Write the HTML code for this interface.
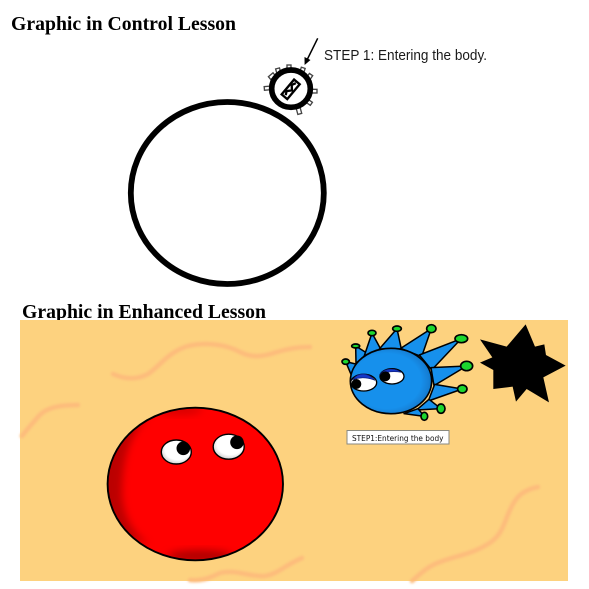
<!DOCTYPE html>
<html>
<head>
<meta charset="utf-8">
<style>
html,body{margin:0;padding:0;background:#fff;width:589px;height:589px;overflow:hidden}
svg{display:block}
</style>
</head>
<body>
<svg width="589" height="589" viewBox="0 0 589 589" xmlns="http://www.w3.org/2000/svg">
<defs>
<filter id="soft" x="-10%" y="-10%" width="120%" height="120%"><feGaussianBlur stdDeviation="0.35"/></filter>
<filter id="worm" x="-10%" y="-30%" width="120%" height="160%"><feGaussianBlur stdDeviation="1.3"/></filter>
<filter id="shade" x="-40%" y="-40%" width="180%" height="180%"><feGaussianBlur stdDeviation="4"/></filter>
<radialGradient id="eyeShade" cx="55%" cy="40%" r="65%"><stop offset="65%" stop-color="#fff"/><stop offset="100%" stop-color="#c4c4c4"/></radialGradient>
<radialGradient id="blueBody" cx="45%" cy="50%" r="60%"><stop offset="70%" stop-color="#1590ec"/><stop offset="100%" stop-color="#0f6fc0"/></radialGradient>
<clipPath id="redClip"><ellipse cx="195.3" cy="484" rx="87.7" ry="76.3"/></clipPath>
</defs>

<text x="11" y="30" font-family="'Liberation Serif',serif" font-weight="bold" font-size="19.6" textLength="225" lengthAdjust="spacingAndGlyphs" fill="#000">Graphic in Control Lesson</text>

<g filter="url(#soft)">
  <ellipse cx="227.3" cy="193" rx="96.5" ry="91" fill="#fff" stroke="#000" stroke-width="5.8"/>
  <g transform="translate(250,30) scale(0.3333)">
    <g fill="#fff" stroke="#444" stroke-width="4">
      <rect x="43" y="169" width="20" height="11" transform="rotate(-5 53 175)"/>
      <rect x="57" y="133" width="18" height="11" transform="rotate(-40 66 139)"/>
      <rect x="79" y="115" width="12" height="18" transform="rotate(-15 85 124)"/>
      <rect x="111" y="105" width="12" height="18"/>
      <rect x="151" y="113" width="12" height="18" transform="rotate(18 157 122)"/>
      <rect x="172" y="132" width="12" height="18" transform="rotate(35 178 141)"/>
      <rect x="183" y="178" width="18" height="11"/>
      <rect x="168" y="211" width="18" height="11" transform="rotate(35 177 216)"/>
      <rect x="141" y="234" width="12" height="18" transform="rotate(-15 147 243)"/>
    </g>
    <ellipse cx="123" cy="176" rx="58" ry="56" fill="#fff" stroke="#000" stroke-width="17"/>
    <g transform="rotate(-50 122 178)">
      <rect x="93" y="167" width="58" height="22" fill="#fff" stroke="#000" stroke-width="7"/>
      <path d="M99 178 L110 172 L122 183 L134 172 L146 178" fill="none" stroke="#000" stroke-width="7"/>
    </g>
  </g>
  <g>
    <line x1="317.7" y1="38.3" x2="306.5" y2="61" stroke="#000" stroke-width="1.5"/>
    <polygon points="304.6,65 304.5,57 310.5,60" fill="#000"/>
  </g>
</g>

<text x="324" y="60" font-family="'Liberation Sans',sans-serif" font-size="14.5" textLength="163" lengthAdjust="spacingAndGlyphs" fill="#1a1a1a">STEP 1: Entering the body.</text>

<text x="22" y="318" font-family="'Liberation Serif',serif" font-weight="bold" font-size="19.6" textLength="244" lengthAdjust="spacingAndGlyphs" fill="#000">Graphic in Enhanced Lesson</text>

<rect x="20" y="320" width="548" height="261" fill="#fdd27f"/>

<g fill="none" stroke="#fdbc7c" stroke-width="4.5" stroke-linecap="round" filter="url(#worm)">
  <path d="M113 374 C122 378 135 381 148 374 C160 366 168 352 188 346 C205 342 225 344 240 352 C252 358 262 357 277 352 C290 348 300 347 310 347"/>
  <path d="M22 436 C28 428 32 424 37 418 C44 409 55 405 78 405"/>
  <path d="M190 580 C200 581 208 579 220 573 C235 569 250 577 265 576 C278 574 285 565 302 558"/>
  <path d="M412 581 C420 574 428 566 440 562 C455 556 470 555 488 544 C503 535 504 522 510 510 C515 498 522 490 538 487"/>
</g>

<g filter="url(#soft)">
  <ellipse cx="195.3" cy="484" rx="87.7" ry="76.3" fill="#ff0000"/>
  <g clip-path="url(#redClip)">
    <path d="M150 416 C130 432 122 458 122 495 C124 520 135 535 150 545 L100 530 L100 440 Z" fill="#b00000" opacity="0.85" filter="url(#shade)"/>
    <ellipse cx="200" cy="556" rx="32" ry="6" fill="#b00000" filter="url(#shade)"/>
    <ellipse cx="180" cy="410" rx="22" ry="5" fill="#d80000" filter="url(#shade)"/>
  </g>
  <ellipse cx="195.3" cy="484" rx="87.7" ry="76.3" fill="none" stroke="#000" stroke-width="1.9"/>
  <g>
    <ellipse cx="176.3" cy="452" rx="15" ry="12" fill="url(#eyeShade)" stroke="#000" stroke-width="1.4"/>
    <circle cx="183.3" cy="448.3" r="6.8" fill="#000"/>
  </g>
  <g>
    <ellipse cx="228.7" cy="446.7" rx="15.5" ry="12.5" fill="url(#eyeShade)" stroke="#000" stroke-width="1.4"/>
    <circle cx="237" cy="442.3" r="6.8" fill="#000"/>
  </g>
</g>

<g transform="translate(330,315) scale(0.3333)" filter="url(#soft)">
  <g fill="#1590ec" stroke="#000" stroke-width="4.5" stroke-linejoin="round">
    <polygon points="47,140 90,150 68,190"/>
    <polygon points="77,93 112,115 78,145"/>
    <polygon points="126,54 152,102 103,122"/>
    <polygon points="201,41 214,102 148,102"/>
    <polygon points="304,41 275,125 212,100"/>
    <polygon points="394,71 305,165 268,120"/>
    <polygon points="410,153 312,212 303,158"/>
    <polygon points="397,222 295,258 314,208"/>
    <polygon points="333,281 260,285 297,253"/>
    <polygon points="283,304 222,296 264,281"/>
  </g>
  <g fill="#1fd62f" stroke="#000" stroke-width="5">
    <ellipse cx="47" cy="140" rx="11" ry="8"/>
    <ellipse cx="77" cy="93" rx="12" ry="6"/>
    <ellipse cx="126" cy="54" rx="12" ry="8"/>
    <ellipse cx="201" cy="41" rx="13" ry="8"/>
    <ellipse cx="304" cy="41" rx="14" ry="12"/>
    <ellipse cx="394" cy="71" rx="19" ry="12"/>
    <ellipse cx="410" cy="153" rx="18" ry="14"/>
    <ellipse cx="397" cy="222" rx="14" ry="12"/>
    <ellipse cx="333" cy="281" rx="12" ry="14"/>
    <ellipse cx="283" cy="304" rx="10" ry="12"/>
  </g>
  <ellipse cx="183" cy="198" rx="122" ry="98" fill="url(#blueBody)" stroke="#000" stroke-width="5"/>
  <g>
    <ellipse cx="101" cy="203" rx="39" ry="25" fill="#fff" stroke="#000" stroke-width="4"/>
    <path d="M68 194 C85 170 115 172 135 196 C115 188 90 186 68 194 Z" fill="#1738c8" stroke="#0a1a70" stroke-width="2"/>
    <circle cx="79" cy="207" r="15" fill="#000"/>
  </g>
  <g>
    <ellipse cx="186" cy="184" rx="36" ry="23" fill="#fff" stroke="#000" stroke-width="4"/>
    <path d="M150 178 C165 158 195 158 214 172 C190 168 170 170 150 178 Z" fill="#1738c8" stroke="#0a1a70" stroke-width="2"/>
    <circle cx="166" cy="184" r="15" fill="#000"/>
  </g>
</g>

<polygon transform="translate(330,315) scale(0.3333)" points="450,73 530,95 587,28 615,95 643,88 648,120 707,152 640,187 657,262 590,222 558,260 548,215 490,222 490,165 450,143 487,127" fill="#000"/>

<g>
  <rect x="347" y="430.5" width="102" height="13.5" fill="#fff" stroke="#8a8a80" stroke-width="1"/>
  <text x="352" y="441" font-family="'DejaVu Sans',sans-serif" font-size="8" textLength="91.5" lengthAdjust="spacingAndGlyphs" fill="#111">STEP1:Entering the body</text>
</g>
</svg>
</body>
</html>
